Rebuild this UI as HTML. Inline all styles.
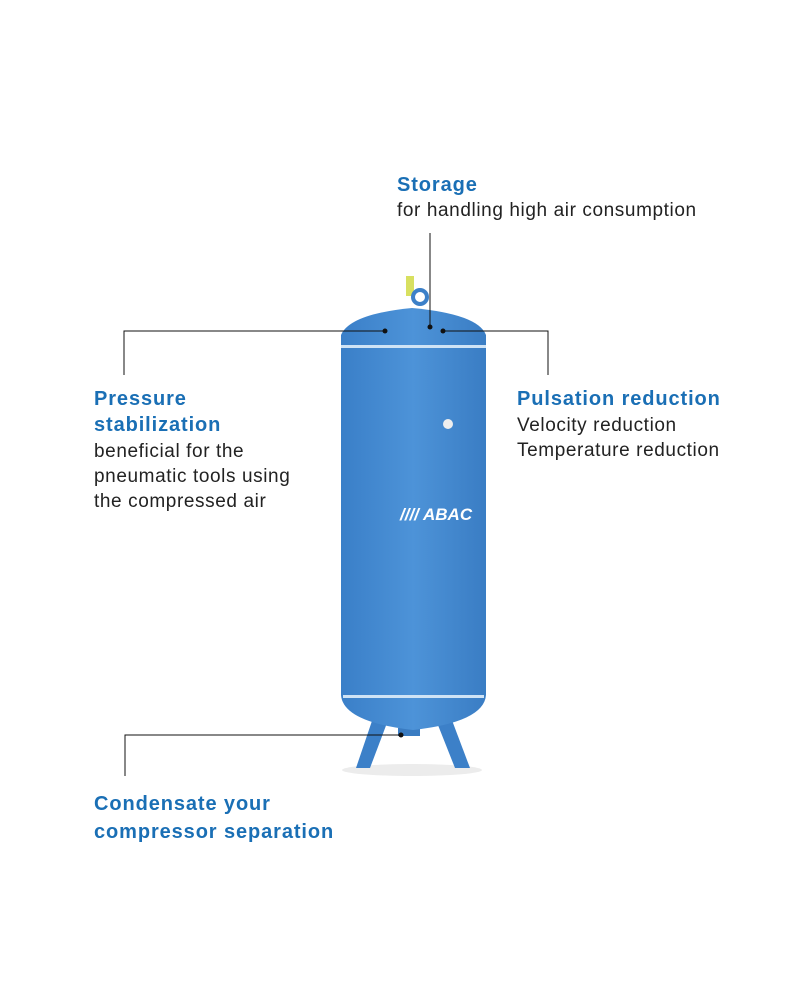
<!DOCTYPE html>
<html><head><meta charset="utf-8"><style>
body{margin:0;width:800px;height:1000px;background:#fff;position:relative;overflow:hidden;font-family:"Liberation Sans",sans-serif}
.t{position:absolute;color:#1a6fb5;font-weight:bold;font-size:20px;letter-spacing:0.9px;line-height:26px;white-space:nowrap}
.s{position:absolute;color:#222;font-size:19px;letter-spacing:0.6px;line-height:25px;white-space:nowrap}
svg{position:absolute;left:0;top:0}
</style></head><body>
<svg width="800" height="1000">
<defs><linearGradient id="g" x1="0" x2="1"><stop offset="0" stop-color="#3a7fc8"/><stop offset="0.5" stop-color="#4d93d8"/><stop offset="1" stop-color="#3a7dc4"/></linearGradient></defs>
<ellipse cx="412" cy="770" rx="70" ry="6" fill="#ececec"/>
<polygon points="374,715 390,715 370,768 356,768" fill="#3c80c8"/>
<polygon points="434,715 450,715 470,768 455,768" fill="#3c80c8"/>
<rect x="398" y="728" width="22" height="8" fill="#3a7cc2"/>
<rect x="406" y="276" width="8" height="20" fill="#d8e060"/>
<circle cx="420" cy="297" r="7" fill="none" stroke="#3c80c8" stroke-width="4"/>
<path d="M341,335 Q350,314 412,308 Q478,314 486,335 L486,695 Q484,722 413,730 Q343,722 341,695 Z" fill="url(#g)"/>
<rect x="341" y="345" width="145" height="3" fill="#cfe3f5"/>
<rect x="343" y="695" width="141" height="3" fill="#cfe3f5"/>
<circle cx="448" cy="424" r="5" fill="#eee"/>
<text x="400" y="520" fill="#fff" font-family="Liberation Sans" font-weight="bold" font-style="italic" font-size="17">//// ABAC</text>
<g stroke="#111" stroke-width="1" fill="none">
<path d="M430,233 V327"/>
<path d="M124,375 V331 H385"/>
<path d="M443,331 H548 V375"/>
<path d="M125,776 V735 H401"/>
</g>
<g fill="#111"><circle cx="430" cy="327" r="2.5"/><circle cx="385" cy="331" r="2.5"/><circle cx="443" cy="331" r="2.5"/><circle cx="401" cy="735" r="2.5"/></g>
</svg>
<div class="t" style="left:397px;top:172px">Storage</div>
<div class="s" style="left:397px;top:198px">for handling high air consumption</div>
<div class="t" style="left:94px;top:386px">Pressure<br>stabilization</div>
<div class="s" style="left:94px;top:439px">beneficial for the<br>pneumatic tools using<br>the compressed air</div>
<div class="t" style="left:517px;top:386px">Pulsation reduction</div>
<div class="s" style="left:517px;top:413px">Velocity reduction<br>Temperature reduction</div>
<div class="t" style="left:94px;top:790px;line-height:28px">Condensate your<br>compressor separation</div>
</body></html>
